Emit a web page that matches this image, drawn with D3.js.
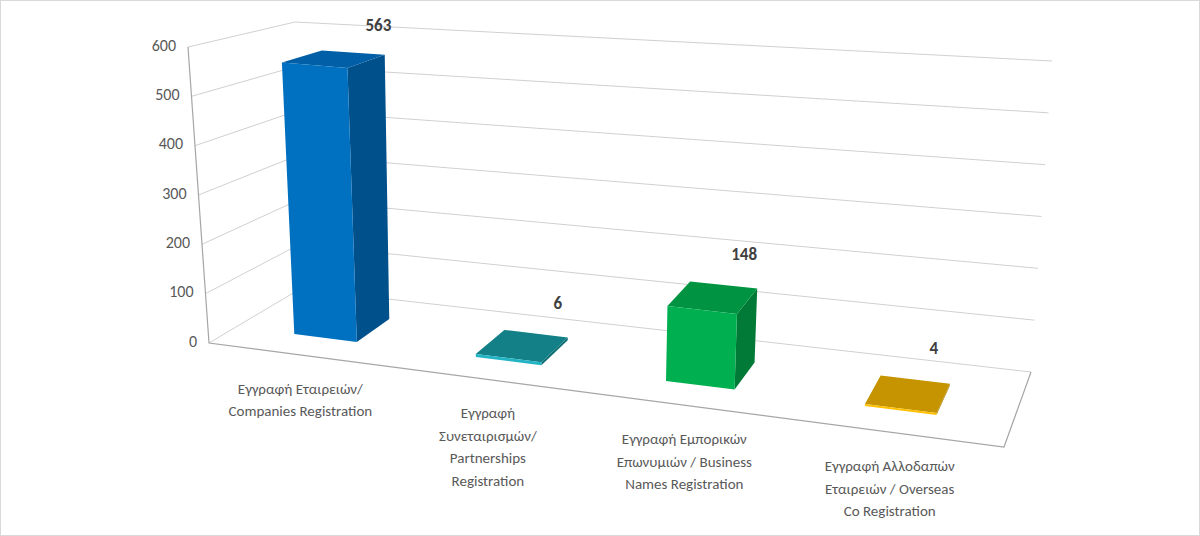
<!DOCTYPE html>
<html>
<head>
<meta charset="utf-8">
<script src="https://cdn.jsdelivr.net/npm/d3@7"></script>
<style>
  body { margin: 0; background: #fff; }
  text { font-family: Calibri, Carlito, "Open Sans", sans-serif; }
</style>
</head>
<body>
<svg id="chart" width="1200" height="536"></svg>
<script>
const categories = [
  ['Εγγραφή Εταιρειών/', 'Companies Registration'],
  ['Εγγραφή', 'Συνεταιρισμών/', 'Partnerships', 'Registration'],
  ['Εγγραφή Εμπορικών', 'Επωνυμιών / Business', 'Names Registration'],
  ['Εγγραφή Αλλοδαπών', 'Εταιρειών / Overseas', 'Co Registration']
];
const values = [563, 6, 148, 4];
const yTicks = [0, 100, 200, 300, 400, 500, 600];
const faceColors = [
  { front: '#0070C0', side: '#00508C', top: '#005FA6' },
  { front: '#22B4C4', side: '#0E6E73', top: '#138088' },
  { front: '#00B050', side: '#007A36', top: '#009442' },
  { front: '#FFC000', side: '#A67D00', top: '#C59400' }
];

const svg = d3.select('#chart');

// box corners on screen: [front/back][left/right][bottom/top]
const corner = {
  flb: [209, 343], flt: [188, 47],
  blb: [300, 289], blt: [295, 22],
  brb: [1031, 372], brt: [1052, 61],
  frb: [1004, 447], frt: [1029, 127]
};
const lerp = (a, b, t) => [a[0] + (b[0] - a[0]) * t, a[1] + (b[1] - a[1]) * t];

// u: left->right, z: front->back, v: bottom->top (all 0..1)
function project(u, z, v) {
  const fb = lerp(corner.flb, corner.frb, u), bb = lerp(corner.blb, corner.brb, u);
  const ft = lerp(corner.flt, corner.frt, u), bt = lerp(corner.blt, corner.brt, u);
  return lerp(lerp(fb, bb, z), lerp(ft, bt, z), v);
}

const y = d3.scaleLinear().domain([0, 600]).range([0, 1]);
const band = d3.scaleBand().domain(d3.range(categories.length)).range([0, 1]).paddingInner(0.65).paddingOuter(0.33);
// perspective widening toward the right
const warp = u => 0.901 * u + 0.0899 * u * u;
const zFront = 0.3, zBack = 0.7;

const grid = svg.append('g').attr('stroke', '#d0d0d0').attr('fill', 'none').attr('stroke-width', 1);
yTicks.forEach(t => {
  const v = y(t);
  const a = project(0, 0, v), b = project(0, 1, v), c = project(1, 1, v);
  grid.append('polyline').attr('points', [a, b, c].map(p => p.join(',')).join(' '));
});

// floor outline and left axis
const axis = svg.append('g').attr('stroke', '#a6a6a6').attr('fill', 'none').attr('stroke-width', 1.2);
axis.append('polyline').attr('points', [project(0, 0, 1), project(0, 0, 0), project(1, 0, 0), project(1, 1, 0)].map(p => p.join(',')).join(' '));

svg.append('g').selectAll('text').data(yTicks).join('text')
  .attr('x', d => project(0, 0, y(d))[0] - 12)
  .attr('y', d => project(0, 0, y(d))[1])
  .attr('text-anchor', 'end').attr('dominant-baseline', 'middle')
  .attr('font-size', 16).attr('fill', '#595959')
  .text(d => d);

const poly = pts => pts.map(p => p.join(',')).join(' ');
const bars = svg.append('g');
values.forEach((val, i) => {
  const u0 = warp(band(i)), u1 = warp(band(i) + band.bandwidth());
  const v = y(val), col = faceColors[i];
  const g = bars.append('g');
  g.append('polygon').attr('fill', col.side)
    .attr('points', poly([project(u1, zFront, 0), project(u1, zBack, 0), project(u1, zBack, v), project(u1, zFront, v)]));
  g.append('polygon').attr('fill', col.top)
    .attr('points', poly([project(u0, zFront, v), project(u1, zFront, v), project(u1, zBack, v), project(u0, zBack, v)]));
  g.append('polygon').attr('fill', col.front)
    .attr('points', poly([project(u0, zFront, 0), project(u1, zFront, 0), project(u1, zFront, Math.max(v, 0.006)), project(u0, zFront, Math.max(v, 0.006))]));
  const lp = project((u0 + u1) / 2 + 0.02, 0.8, v);
  svg.append('text').attr('x', lp[0]).attr('y', lp[1] - 24)
    .attr('text-anchor', 'middle').attr('dominant-baseline', 'middle')
    .attr('font-size', 17).attr('font-weight', 'bold').attr('fill', '#404040')
    .text(val);
});

const labels = svg.append('g');
categories.forEach((lines, i) => {
  const p = project(warp(band(i) + band.bandwidth() / 2), 0, 0);
  const t = labels.append('text').attr('text-anchor', 'middle').attr('font-size', 15).attr('fill', '#595959');
  lines.forEach((l, k) => {
    t.append('tspan').attr('x', p[0]).attr('y', p[1] + 39 + k * 22.5).text(l);
  });
});

svg.append('rect').attr('x', 0.5).attr('y', 0.5).attr('width', 1199).attr('height', 535)
  .attr('fill', 'none').attr('stroke', '#d9d9d9');
</script>
</body>
</html>
